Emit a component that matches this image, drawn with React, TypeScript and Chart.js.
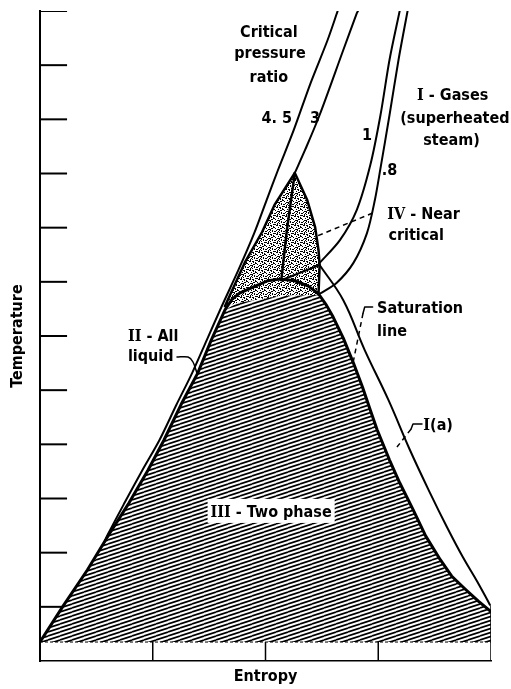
import React, { useEffect, useRef } from 'react';
import { Chart, registerables } from 'chart.js';

Chart.register(...registerables);

const FONT_FAMILY = '"DejaVu Sans Condensed", "DejaVu Sans", sans-serif';
const SERIF_FAMILY = '"DejaVu Serif Condensed", "DejaVu Serif", serif';
const FONT_SIZE = 16;
const FONT_WEIGHT = 'bold';

// Scale ranges: Entropy 0..4, Temperature 0..12
const xRange = [0, 4];
const yRange = [0, 12];
const yTickValues = [1, 2, 3, 4, 5, 6, 7, 8, 9, 10, 11, 12];
const xDividerValues = [1, 2, 3];
const domeBaseY = 0.35;
const rightEdgeTopY = 1.03;
const tickLen = 0.24;

// Saturation line: liquid branch, top arc, vapour branch
const leftX = [0, 0.2, 0.42, 0.61, 0.79, 0.96, 1.1, 1.25, 1.4, 1.52, 1.64];
const leftY = [0.35, 1.0, 1.68, 2.33, 2.92, 3.53, 4.08, 4.73, 5.32, 5.93, 6.48];
const arcX = [1.7, 1.77, 1.91, 2.02, 2.13, 2.26, 2.38, 2.47];
const arcY = [6.67, 6.79, 6.92, 7.02, 7.05, 7.02, 6.92, 6.78];
const rightX = [2.54, 2.6, 2.69, 2.78, 2.86, 2.93, 2.99, 3.1, 3.19, 3.31, 3.42, 3.55, 3.65, 3.77, 3.89, 4.0];
const rightY = [6.57, 6.35, 5.96, 5.5, 5.06, 4.63, 4.27, 3.71, 3.29, 2.79, 2.31, 1.87, 1.57, 1.33, 1.1, 0.91];

// III - two phase region top edge (below the near-critical cap)
const hatchTopX = [1.75, 2.13, 2.47];
const hatchTopY = [6.61, 6.74, 6.76];

// IV - near critical region (stippled)
const stipX = [2.26, 2.37, 2.44, 2.47, 2.48, 2.47, 2.13, 1.75, 1.64, 1.82, 1.97, 2.08];
const stipY = [9.01, 8.51, 8.01, 7.59, 7.31, 6.76, 6.74, 6.61, 6.55, 7.37, 7.92, 8.42];
const stipEdgeX = [1.64, 1.82, 1.97, 2.08, 2.26, 2.37, 2.44, 2.47, 2.48, 2.47];
const stipEdgeY = [6.55, 7.37, 7.92, 8.42, 9.01, 8.51, 8.01, 7.59, 7.31, 6.76];
const isoX = [2.26, 2.19, 2.14];
const isoY = [9.01, 7.96, 7.03];
const junctionX = [2.14, 2.48];
const junctionY = [7.03, 7.31];

// Critical pressure ratio lines
const ratio45X = [0.56, 0.6, 0.75, 0.91, 1.06, 1.21, 1.35, 1.48, 1.61, 1.76, 1.9, 2.01, 2.11, 2.25, 2.4, 2.55, 2.64];
const ratio45Y = [2.14, 2.33, 2.92, 3.53, 4.08, 4.73, 5.32, 5.93, 6.54, 7.22, 7.9, 8.51, 9.06, 9.8, 10.67, 11.46, 12.0];
const ratio3X = [2.26, 2.35, 2.48, 2.69, 2.81, 2.82];
const ratio3Y = [9.01, 9.43, 10.08, 11.28, 11.96, 12.0];
const ratio1X = [2.48, 2.66, 2.81, 2.93, 3.02, 3.1, 3.19];
const ratio1Y = [7.35, 7.77, 8.33, 9.16, 10.08, 11.1, 12.0];
const ratio08X = [2.48, 2.63, 2.78, 2.9, 2.97, 3.02, 3.1, 3.18, 3.26];
const ratio08Y = [6.78, 6.98, 7.35, 7.9, 8.51, 9.1, 10.08, 11.1, 12.0];

// Outer right line bounding region I(a)
const outerX = [2.48, 2.69, 2.88, 3.09, 3.28, 3.46, 3.61, 3.75, 3.88, 3.99];
const outerY = [7.31, 6.66, 5.74, 4.82, 3.9, 3.1, 2.47, 1.92, 1.46, 1.04];

// Leader lines
const leadIVX = [2.95, 2.44];
const leadIVY = [8.27, 7.83];
const leadSatSolidX = [2.95, 2.88, 2.865];
const leadSatSolidY = [6.535, 6.535, 6.42];
const leadSatDashX = [2.865, 2.776];
const leadSatDashY = [6.42, 5.5];
const leadIaSolidX = [3.388, 3.308, 3.29];
const leadIaSolidY = [4.375, 4.375, 4.28];
const leadIaDashX = [3.29, 3.166];
const leadIaDashY = [4.28, 3.95];
const leadIIX = [1.215, 1.313, 1.357, 1.392];
const leadIIY = [5.612, 5.612, 5.52, 5.317];

// Labels: numeral part (serif) + text part (sans)
const labels = [
  { num: '', text: 'Critical', x: 2.03, y: 11.52, align: 'center' },
  { num: '', text: 'pressure', x: 2.04, y: 11.13, align: 'center' },
  { num: '', text: 'ratio', x: 2.03, y: 10.69, align: 'center' },
  { num: '', text: '4. 5', x: 2.1, y: 9.93, align: 'center' },
  { num: '', text: '3', x: 2.44, y: 9.93, align: 'center' },
  { num: '', text: '1', x: 2.9, y: 9.62, align: 'center' },
  { num: '', text: '.8', x: 3.1, y: 8.97, align: 'center' },
  { num: 'I', text: ' - Gases', x: 3.66, y: 10.36, align: 'center' },
  { num: '', text: '(superheated', x: 3.68, y: 9.93, align: 'center' },
  { num: '', text: 'steam)', x: 3.65, y: 9.53, align: 'center' },
  { num: 'IV', text: ' - Near', x: 3.08, y: 8.16, align: 'left' },
  { num: '', text: 'critical', x: 3.09, y: 7.77, align: 'left' },
  { num: '', text: 'Saturation', x: 2.99, y: 6.42, align: 'left' },
  { num: '', text: 'line', x: 2.99, y: 6.0, align: 'left' },
  { num: 'I', text: '(a)', x: 3.4, y: 4.26, align: 'left' },
  { num: 'II', text: ' - All', x: 0.78, y: 5.91, align: 'left' },
  { num: '', text: 'liquid', x: 0.78, y: 5.54, align: 'left' },
  { num: 'III', text: ' - Two phase', x: 2.05, y: 2.66, align: 'center', box: true },
];

const zip = (xs: number[], ys: number[]) => xs.map((x, i) => ({ x, y: ys[i] }));

const lineDs = (label: string, data: { x: number; y: number }[], width: number, extra: any = {}) => ({
  label,
  data,
  showLine: true,
  borderColor: '#000',
  borderWidth: width,
  pointRadius: 0,
  pointHoverRadius: 0,
  fill: false,
  tension: 0,
  borderCapStyle: 'round',
  borderJoinStyle: 'round',
  order: 1,
  ...extra,
});

function makeHatch(): any {
  const c = document.createElement('canvas');
  c.width = 12;
  c.height = 4;
  const g = c.getContext('2d')!;
  g.fillStyle = '#fff';
  g.fillRect(0, 0, 12, 4);
  g.strokeStyle = '#000';
  g.lineWidth = 1.7;
  for (const off of [-4, 0, 4]) {
    g.beginPath();
    g.moveTo(0, 4 + off);
    g.lineTo(12, off);
    g.stroke();
  }
  return g.createPattern(c, 'repeat');
}

function makeStipple(): any {
  const c = document.createElement('canvas');
  c.width = 9;
  c.height = 9;
  const g = c.getContext('2d')!;
  g.fillStyle = '#fff';
  g.fillRect(0, 0, 9, 9);
  g.fillStyle = '#000';
  const dots = [
    [0, 0, 2, 1], [3, 1, 1, 2], [6, 0, 2, 1], [1, 3, 2, 1], [5, 3, 1, 1], [7, 4, 2, 1],
    [2, 5, 1, 2], [4, 6, 2, 1], [0, 7, 1, 1], [7, 7, 1, 2], [4, 2, 1, 1], [8, 2, 1, 1],
    [1, 1, 1, 1], [6, 5, 1, 1], [3, 8, 2, 1], [0, 4, 1, 2], [5, 8, 1, 1], [8, 6, 1, 1],
  ];
  for (const [x, y, w, h] of dots) g.fillRect(x, y, w, h);
  return g.createPattern(c, 'repeat');
}

const annotationPlugin = {
  id: 'annotations',
  afterDatasetsDraw(chart: any) {
    const { ctx, scales } = chart;
    const xs = scales.x;
    const ys = scales.y;
    const sansFont = `${FONT_WEIGHT} ${FONT_SIZE}px ${FONT_FAMILY}`;
    const serifFont = `${FONT_WEIGHT} ${FONT_SIZE}px ${SERIF_FAMILY}`;
    ctx.save();
    ctx.textBaseline = 'alphabetic';
    ctx.textAlign = 'left';
    for (const l of labels as any[]) {
      const px = xs.getPixelForValue(l.x);
      const py = ys.getPixelForValue(l.y);
      ctx.font = serifFont;
      const wNum = l.num ? ctx.measureText(l.num).width : 0;
      ctx.font = sansFont;
      const wText = ctx.measureText(l.text).width;
      const total = wNum + wText;
      const left = l.align === 'center' ? px - total / 2 : px;
      if (l.box) {
        ctx.fillStyle = '#fff';
        ctx.fillRect(left - 3, py - 18, total + 6, 24);
      }
      ctx.fillStyle = '#000';
      if (l.num) {
        ctx.font = serifFont;
        ctx.fillText(l.num, left, py);
      }
      ctx.font = sansFont;
      ctx.fillText(l.text, left + wNum, py);
    }
    ctx.restore();
  },
};

export default function App() {
  const canvasRef = useRef<HTMLCanvasElement | null>(null);

  useEffect(() => {
    const canvas = canvasRef.current;
    if (!canvas) return;
    const hatch = makeHatch();
    const stipple = makeStipple();
    const datasets: any[] = [];

    const satPts = [...zip(leftX, leftY), ...zip(arcX, arcY), ...zip(rightX, rightY)];
    const hatchPts = [
      ...zip(leftX, leftY),
      ...zip(hatchTopX, hatchTopY),
      ...zip(rightX, rightY),
      { x: xRange[1], y: domeBaseY },
    ];

    yTickValues.forEach((v) =>
      datasets.push(lineDs(`tick ${v}`, zip([0, tickLen], [v, v]), 2, { order: 30, borderCapStyle: 'butt' }))
    );
    datasets.push({
      label: 'III - Two phase',
      data: hatchPts,
      showLine: true,
      borderWidth: 0,
      backgroundColor: hatch,
      fill: 'shape',
      pointRadius: 0,
      order: 20,
    });
    datasets.push({
      label: 'IV - Near critical',
      data: zip(stipX, stipY),
      showLine: true,
      borderWidth: 0,
      backgroundColor: stipple,
      fill: 'shape',
      pointRadius: 0,
      order: 20,
    });
    datasets.push(lineDs('base', zip([xRange[0], xRange[1]], [domeBaseY, domeBaseY]), 1, { borderDash: [3, 2], order: 5, borderCapStyle: 'butt' }));
    xDividerValues.forEach((v) =>
      datasets.push(lineDs(`divider ${v}`, zip([v, v], [yRange[0], domeBaseY]), 1.5, { order: 5, borderCapStyle: 'butt' }))
    );
    datasets.push(lineDs('right edge', zip([xRange[1], xRange[1]], [yRange[0], rightEdgeTopY]), 1.5, { order: 5, borderCapStyle: 'butt' }));

    datasets.push(lineDs('Saturation line', satPts, 3));
    datasets.push(lineDs('near critical edge', zip(stipEdgeX, stipEdgeY), 2.5));
    datasets.push(lineDs('critical isotherm', zip(isoX, isoY), 2.5));
    datasets.push(lineDs('junction', zip(junctionX, junctionY), 2));
    datasets.push(lineDs('4.5', zip(ratio45X, ratio45Y), 2, { tension: 0.3 }));
    datasets.push(lineDs('3', zip(ratio3X, ratio3Y), 2, { tension: 0.3 }));
    datasets.push(lineDs('1', zip(ratio1X, ratio1Y), 2, { tension: 0.3 }));
    datasets.push(lineDs('.8', zip(ratio08X, ratio08Y), 2, { tension: 0.3 }));
    datasets.push(lineDs('I(a) boundary', zip(outerX, outerY), 2, { tension: 0.4 }));

    datasets.push(lineDs('lead IV', zip(leadIVX, leadIVY), 1.5, { borderDash: [5, 4], borderCapStyle: 'butt' }));
    datasets.push(lineDs('lead sat', zip(leadSatSolidX, leadSatSolidY), 1.5));
    datasets.push(lineDs('lead sat dash', zip(leadSatDashX, leadSatDashY), 1.5, { borderDash: [5, 4], borderCapStyle: 'butt' }));
    datasets.push(lineDs('lead Ia', zip(leadIaSolidX, leadIaSolidY), 1.5));
    datasets.push(lineDs('lead Ia dash', zip(leadIaDashX, leadIaDashY), 1.5, { borderDash: [5, 4], borderCapStyle: 'butt' }));
    datasets.push(lineDs('lead II', zip(leadIIX, leadIIY), 1.5, { tension: 0.3 }));

    const titleFont = { family: FONT_FAMILY, size: FONT_SIZE, weight: FONT_WEIGHT, lineHeight: 1.2 };

    const chart = new Chart(canvas, {
      type: 'scatter',
      data: { datasets },
      options: {
        animation: false,
        responsive: true,
        maintainAspectRatio: false,
        events: [],
        layout: { padding: { left: 0, right: 20, top: 11, bottom: 0 } },
        plugins: {
          legend: { display: false },
          tooltip: { enabled: false },
        },
        scales: {
          x: {
            type: 'linear',
            min: xRange[0],
            max: xRange[1],
            grid: { display: false, drawTicks: false },
            ticks: { display: false },
            border: { display: true, color: '#000', width: 1.5 },
            title: { display: true, text: 'Entropy', color: '#000', font: titleFont, padding: { top: 6.4, bottom: 2.4 } },
          },
          y: {
            type: 'linear',
            min: yRange[0],
            max: yRange[1],
            grid: { display: false, drawTicks: false },
            ticks: { display: false },
            border: { display: true, color: '#000', width: 2 },
            title: { display: true, text: 'Temperature', color: '#000', font: titleFont, padding: { top: 8.4, bottom: 12.4 } },
          },
        },
      } as any,
      plugins: [annotationPlugin],
    });

    return () => chart.destroy();
  }, []);

  return (
    <div style={{ position: 'absolute', left: 0, top: 0, width: 511, height: 689, background: '#fff' }}>
      <canvas ref={canvasRef} />
    </div>
  );
}
